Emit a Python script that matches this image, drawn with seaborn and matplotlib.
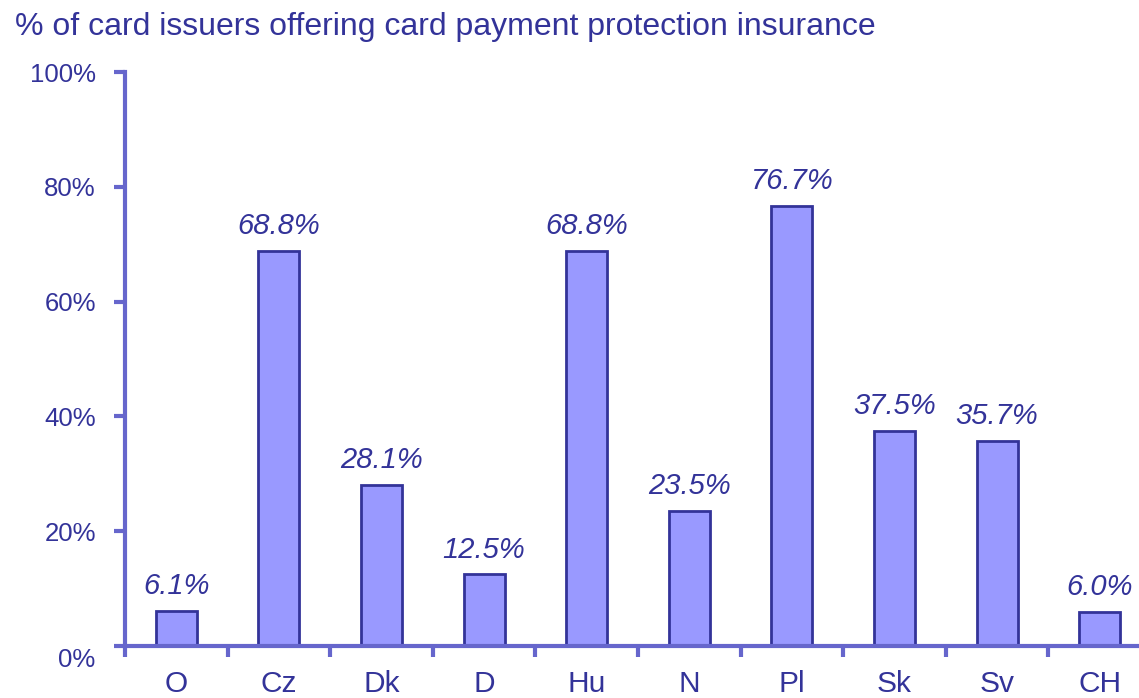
import matplotlib
matplotlib.use("Agg")
import matplotlib.pyplot as plt
import seaborn as sns
import pandas as pd

countries = ["O", "Cz", "Dk", "D", "Hu", "N", "Pl", "Sk", "Sv", "CH"]
shares = [6.1, 68.8, 28.1, 12.5, 68.8, 23.5, 76.7, 37.5, 35.7, 6.0]
yticks = [0, 20, 40, 60, 80, 100]

TEXT = "#333399"
AXIS = "#6666CC"
FILL = "#9999FF"

sns.set_style("white")
plt.rcParams["font.family"] = ["Liberation Sans", "DejaVu Sans"]

df = pd.DataFrame({"country": countries, "share": shares})

fig = plt.figure(figsize=(11.39, 6.98), dpi=100)
ax = fig.add_axes([125 / 1139, 52 / 698, 1026 / 1139, 574 / 698])

sns.barplot(data=df, x="country", y="share", color=FILL, width=0.4,
            edgecolor=TEXT, linewidth=2, saturation=1, ax=ax)

for i, v in enumerate(shares):
    ax.annotate(f"{v:.1f}%", (i, v), xytext=(0, 12), textcoords="offset points",
                ha="center", va="baseline", fontsize=21, style="italic", color=TEXT)

ax.set_xlim(-0.5, len(countries) - 0.5)
ax.set_ylim(0, 100)
ax.set_yticks(yticks)
ax.set_yticklabels([""] + [f"{t}%" for t in yticks[1:]], fontsize=18.5, color=TEXT)
# the 0% label sits a little below its tick in the original
ax.annotate("0%", (0, 0), xycoords="axes fraction", xytext=(-30, -14),
            textcoords="offset pixels", ha="right", va="center",
            fontsize=18.5, color=TEXT)

# category ticks sit between the bars
ax.set_xticks([i - 0.5 for i in range(len(countries))], minor=False)
ax.set_xticklabels([])
ax.set_xticks(range(len(countries)), minor=True)
ax.set_xticklabels(countries, minor=True, fontsize=21.5, color=TEXT)
ax.tick_params(axis="x", which="major", bottom=True, length=8, width=3, color=AXIS, direction="out")
ax.tick_params(axis="x", which="minor", bottom=True, length=0, pad=17)
ax.tick_params(axis="y", left=True, length=8, width=3, color=AXIS, direction="out", pad=13)

for side in ["top", "right"]:
    ax.spines[side].set_visible(False)
for side in ["left", "bottom"]:
    ax.spines[side].set_color(AXIS)
    ax.spines[side].set_linewidth(3)

ax.set_xlabel("")
ax.set_ylabel("")
fig.text(15 / 1139, 1 - 27 / 698, "% of card issuers offering card payment protection insurance",
         fontsize=23, color=TEXT, va="center", ha="left")

fig.savefig("out.png", dpi=100)
